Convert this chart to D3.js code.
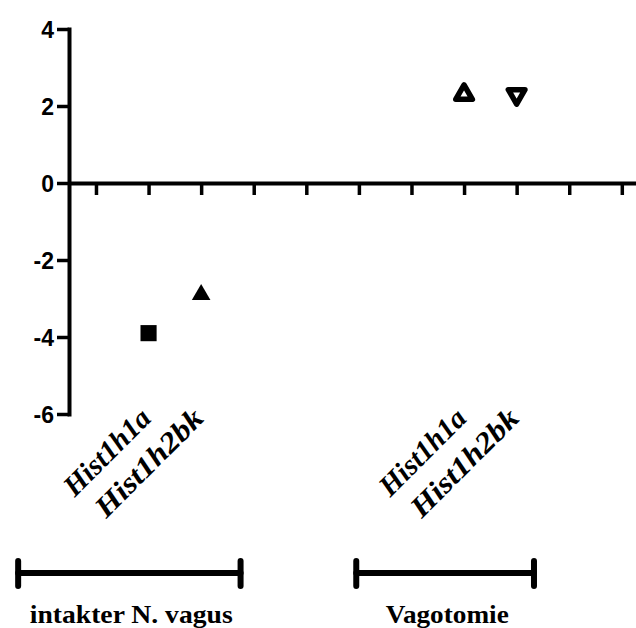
<!DOCTYPE html>
<html>
<head>
<meta charset="utf-8">
<script src="https://cdn.jsdelivr.net/npm/d3@7"></script>
<style>
  html, body { margin: 0; padding: 0; background: #fff; }
  svg { display: block; }
</style>
</head>
<body>
<svg id="chart" width="636" height="628"></svg>
<script>
// ---- data ----
const categories = ["Hist1h1a", "Hist1h2bk", "Hist1h1a", "Hist1h2bk"];
const groupOf = ["intakter N. vagus", "intakter N. vagus", "Vagotomie", "Vagotomie"];
const slots = [1, 2, 7, 8];            // column position on the x axis
const values = [-3.9, -2.9, 2.3, 2.3];
const symbols = ["squareFilled", "triangleFilled", "triangleOpen", "triangleDownOpen"];
const yTicks = [-6, -4, -2, 0, 2, 4];
const xTickSlots = [0, 1, 2, 3, 4, 5, 6, 7, 8, 9, 10];
const groupNames = ["intakter N. vagus", "Vagotomie"];
const groupSpans = [[-1.48, 2.75], [4.95, 8.33]];

// ---- layout ----
const svg = d3.select("#chart");
const x = d3.scaleLinear().domain([-0.513, 10.27]).range([69, 636]);
const y = d3.scaleLinear().domain([-6, 4]).range([414, 29]);

// y axis
const yAxis = svg.append("g")
  .attr("transform", `translate(${x(-0.513)},0)`)
  .call(d3.axisLeft(y).tickValues(yTicks).tickSize(12).tickSizeOuter(0).tickPadding(3)
    .tickFormat(d => String(d)));
yAxis.select(".domain").attr("stroke", "#000").attr("stroke-width", 4).attr("stroke-linecap", "square");
yAxis.selectAll(".tick line").attr("stroke", "#000").attr("stroke-width", 3.5);
yAxis.selectAll(".tick text")
  .attr("fill", "#000")
  .style("font-family", "'Liberation Sans', Arial, sans-serif")
  .style("font-weight", "bold")
  .style("font-size", "23px")
  .attr("dy", "0.36em");

// x axis at y = 0
const xAxis = svg.append("g")
  .attr("transform", `translate(0,${y(0)})`)
  .call(d3.axisBottom(x).tickValues(xTickSlots).tickSize(12).tickSizeOuter(0).tickFormat(""));
xAxis.select(".domain").attr("stroke", "#000").attr("stroke-width", 4);
xAxis.selectAll(".tick line").attr("stroke", "#000").attr("stroke-width", 3.5);

// points
const markers = svg.append("g");
values.forEach((v, i) => {
  const cx = x(slots[i]), cy = y(v);
  const s = symbols[i];
  if (s === "squareFilled") {
    markers.append("path")
      .attr("d", d3.symbol(d3.symbolSquare, 260)())
      .attr("transform", `translate(${cx},${cy})`)
      .attr("fill", "#000");
  } else if (s === "triangleFilled") {
    markers.append("path")
      .attr("d", d3.symbol(d3.symbolTriangle, 150)())
      .attr("transform", `translate(${cx},${cy})`)
      .attr("fill", "#000");
  } else if (s === "triangleOpen") {
    markers.append("path")
      .attr("d", d3.symbol(d3.symbolTriangle, 120)())
      .attr("transform", `translate(${cx},${cy})`)
      .attr("fill", "#fff").attr("stroke", "#000").attr("stroke-width", 5.5)
      .attr("stroke-linejoin", "round");
  } else {
    markers.append("path")
      .attr("d", d3.symbol(d3.symbolTriangle, 120)())
      .attr("transform", `translate(${cx},${cy}) rotate(180)`)
      .attr("fill", "#fff").attr("stroke", "#000").attr("stroke-width", 5.5)
      .attr("stroke-linejoin", "round");
  }
});

// rotated category labels
const catLen = { "Hist1h1a": 110, "Hist1h2bk": 140 };
categories.forEach((c, i) => {
  const lx = x(slots[i]) + 4, ly = 420;
  svg.append("text")
    .attr("transform", `translate(${lx},${ly}) rotate(-45)`)
    .attr("text-anchor", "end")
    .attr("textLength", catLen[c])
    .attr("lengthAdjust", "spacingAndGlyphs")
    .style("font-family", "'Liberation Serif', 'Times New Roman', serif")
    .style("font-weight", "bold")
    .style("font-style", "italic")
    .style("font-size", "29px")
    .attr("fill", "#000")
    .text(c);
});

// group brackets
const groupLen = [203, 123];
groupNames.forEach((g, i) => {
  const [a, b] = groupSpans[i];
  const x0 = x(a), x1 = x(b), gy = 573;
  const grp = svg.append("g").attr("stroke", "#000").attr("stroke-linecap", "round");
  grp.append("line").attr("x1", x0).attr("x2", x1).attr("y1", gy).attr("y2", gy).attr("stroke-width", 6);
  grp.append("line").attr("x1", x0).attr("x2", x0).attr("y1", gy - 12).attr("y2", gy + 13).attr("stroke-width", 6);
  grp.append("line").attr("x1", x1).attr("x2", x1).attr("y1", gy - 12).attr("y2", gy + 13).attr("stroke-width", 6);
  const cxm = x(i === 0 ? 0.67 : 6.68);
  svg.append("text")
    .attr("x", cxm).attr("y", 623)
    .attr("text-anchor", "middle")
    .attr("textLength", groupLen[i])
    .attr("lengthAdjust", "spacingAndGlyphs")
    .style("font-family", "'Liberation Serif', 'Times New Roman', serif")
    .style("font-weight", "bold")
    .style("font-size", "25px")
    .attr("fill", "#000")
    .text(g);
});
</script>
</body>
</html>
